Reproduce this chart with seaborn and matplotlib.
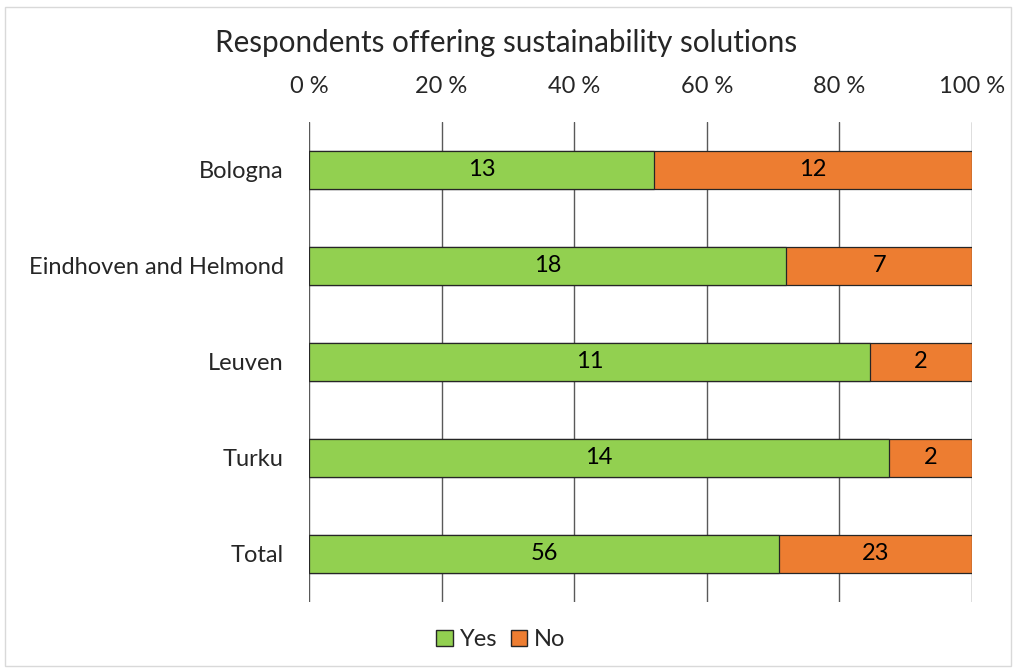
import matplotlib
matplotlib.use("Agg")
import matplotlib.pyplot as plt
from matplotlib.patches import Patch, Rectangle
import seaborn as sns
import pandas as pd

# Survey counts per city
cities = ["Bologna", "Eindhoven and Helmond", "Leuven", "Turku", "Total"]
yes_counts = [13, 18, 11, 14, 56]
no_counts = [12, 7, 2, 2, 23]
tick_values = [0, 20, 40, 60, 80, 100]
tick_labels = ["0 %", "20 %", "40 %", "60 %", "80 %", "100 %"]

GREEN = "#92D050"
ORANGE = "#ED7D31"
EDGE = "#262626"
FS = 17

df = pd.DataFrame({"city": cities, "yes": yes_counts, "no": no_counts})
df["total"] = df["yes"] + df["no"]
df["yes_pct"] = df["yes"] / df["total"] * 100
df["full_pct"] = 100.0

sns.set_theme(style="white")
plt.rcParams["font.family"] = ["Lato", "DejaVu Sans"]

fig = plt.figure(figsize=(10.13, 6.68), dpi=100)
ax = fig.add_axes([0.305, 0.0988, 0.6545, 0.7186])

# 100 % stacked bars: full-width "No" layer underneath, "Yes" share on top
sns.barplot(data=df, x="full_pct", y="city", orient="h", color=ORANGE,
            saturation=1, width=0.39, edgecolor=EDGE, linewidth=0.9, ax=ax, zorder=3)
sns.barplot(data=df, x="yes_pct", y="city", orient="h", color=GREEN,
            saturation=1, width=0.39, edgecolor=EDGE, linewidth=0.9, ax=ax, zorder=4)

# Segment value labels
for i, row in df.iterrows():
    ax.text(row["yes_pct"] / 2, i, f"{row['yes']}", ha="center", va="center",
            fontsize=FS, color="black", zorder=5)
    no_pct = 100 - row["yes_pct"]
    ax.text(row["yes_pct"] + no_pct / 2, i, f"{row['no']}", ha="center", va="center",
            fontsize=FS, color="black", zorder=5)

ax.set_xlim(0, 100)
ax.set_ylim(4.5, -0.5)
ax.set_xticks(tick_values)
ax.set_xticklabels(tick_labels, fontsize=FS)
ax.xaxis.tick_top()
ax.tick_params(axis="x", length=0, pad=18)
ax.tick_params(axis="y", length=0, pad=18, labelsize=FS)
ax.set_xlabel("")
ax.set_ylabel("")
for v in tick_values:
    ax.axvline(v, color="#595959", linewidth=1.0, zorder=1)
for s in ax.spines.values():
    s.set_visible(False)

fig.text(0.5, 0.935, "Respondents offering sustainability solutions",
         ha="center", va="center", fontsize=21.3)

handles = [Patch(facecolor=GREEN, edgecolor=EDGE, label="Yes"),
           Patch(facecolor=ORANGE, edgecolor=EDGE, label="No")]
fig.legend(handles=handles, loc="center", bbox_to_anchor=(0.4946, 0.042), ncol=2,
           frameon=False, fontsize=FS, handlelength=0.7, handleheight=0.7,
           handletextpad=0.3, columnspacing=0.55)

# Light chart-area border
fig.patches.append(Rectangle((0.005, 0.003), 0.993, 0.987, transform=fig.transFigure,
                             fill=False, edgecolor="#D9D9D9", linewidth=1.0))

fig.savefig("out.png", dpi=100, facecolor="white")
